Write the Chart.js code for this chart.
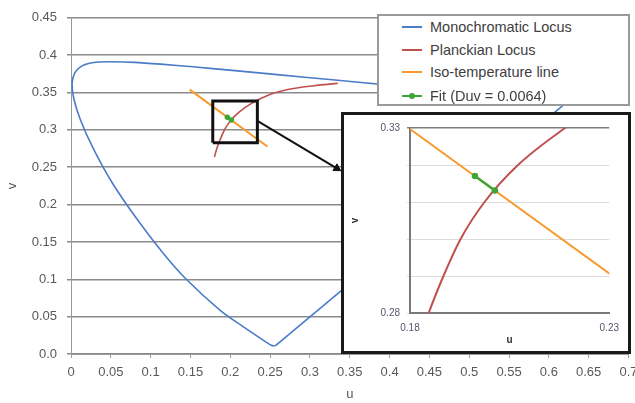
<!DOCTYPE html>
<html><head><meta charset="utf-8">
<script src="https://cdn.jsdelivr.net/npm/chart.js@4.4.0/dist/chart.umd.min.js"></script>
<style>
html,body{margin:0;padding:0;background:#fff;width:635px;height:403px;overflow:hidden;font-family:'Liberation Sans',Arial,sans-serif;}
#wrap{position:relative;width:635px;height:403px;}
#main{position:absolute;left:0;top:0;}
#legend{position:absolute;left:377px;top:14px;width:253px;height:92px;box-sizing:border-box;border:2px solid #9a9a9a;background:#fff;}
.item{position:absolute;left:0;height:18px;line-height:18px;font-size:14.5px;color:#404040;white-space:nowrap;}
.swatch{position:absolute;left:23px;top:8px;width:20px;height:2px;}
.dot{position:absolute;left:30px;top:6px;width:6px;height:6px;border-radius:50%;}
.label{position:absolute;left:51px;top:0;}
#inset{position:absolute;left:341px;top:112px;width:290px;height:242px;box-sizing:border-box;border:3px solid #1a1a1a;background:#fff;}
#insetCanvas{position:absolute;left:0;top:0;}
</style></head>
<body>
<div id="wrap">
  <canvas id="main" width="635" height="403"></canvas>
  <div id="legend"></div>
  <div id="inset"><canvas id="insetCanvas" width="284" height="236"></canvas></div>
</div>
<script>
// ---- data ----
const seriesNames = ['Monochromatic Locus', 'Planckian Locus', 'Iso-temperature line', 'Fit (Duv = 0.0064)'];

// Monochromatic (spectral) locus, CIE 1960 u,v (380 nm -> 700 nm)
const monoU = [0.2568,0.2522,0.2347,0.2161,0.1877,0.1441,0.1147,0.0828,0.0521,0.0282,0.0119,0.0035,0.0014,0.0046,0.0123,0.0231,0.0360,0.0501,0.0792,0.1127,0.1531,0.2026,0.2623,0.3315,0.4035,0.4692,0.5203,0.5830,0.6109,0.6234];
const monoV = [0.0111,0.0113,0.0233,0.0366,0.0581,0.1007,0.1362,0.1806,0.2285,0.2745,0.3132,0.3420,0.3621,0.3759,0.3846,0.3891,0.3908,0.3912,0.3904,0.3880,0.3844,0.3796,0.3736,0.3667,0.3596,0.3530,0.3479,0.3417,0.3389,0.3377];

// Planckian locus
const planckU = [0.1801,0.1823,0.1847,0.1884,0.1927,0.1987,0.2071,0.2189,0.2251,0.2505,0.2722,0.3051,0.3349];
const planckV = [0.2636,0.2722,0.2800,0.2900,0.3000,0.3100,0.3200,0.3300,0.3344,0.3476,0.3541,0.3591,0.3622];

// Iso-temperature line
const isoU = [0.149, 0.2466];
const isoV = [0.3539, 0.2777];

// Fit (Duv)
const fitU = [0.1963, 0.2013];
const fitV = [0.3170, 0.3131];

// Zoom box and connector arrow (main chart)
const boxU = [0.178, 0.234, 0.234, 0.178, 0.178];
const boxV = [0.2828, 0.2828, 0.3385, 0.3385, 0.2828];
const arrowU = [0.234, 0.3338];
const arrowV = [0.312, 0.2485];

// Tick labels
const xTickLabels = ['0','0.05','0.1','0.15','0.2','0.25','0.3','0.35','0.4','0.45','0.5','0.55','0.6','0.65','0.7'];
const yTickLabels = ['0.0','0.05','0.1','0.15','0.2','0.25','0.3','0.35','0.4','0.45'];
const insetXTicks = ['0.18','0.23'];
const insetYTicks = ['0.28','0.29','0.30','0.31','0.32','0.33'];
const insetYLabels = ['0.28','','','','','0.33'];

// ---- styles ----
const F = "'Liberation Sans', Arial, sans-serif";
const C = {blue:'#4a7cc8', red:'#c0504d', orange:'#f79a2e', green:'#3fa535', black:'#111'};
const seriesColors = [C.blue, C.red, C.orange, C.green];

const pts = (us, vs) => us.map((u, i) => ({x: u, y: vs[i]}));
const last = a => a.length - 1;

// ---- legend (HTML) ----
const lg = document.getElementById('legend');
const rowTops = [2, 25, 47, 71];
seriesNames.forEach((n, i) => {
  const d = document.createElement('div');
  d.className = 'item';
  d.style.top = rowTops[i] + 'px';
  d.style.width = '100%';
  d.innerHTML = '<span class="swatch" style="background:' + seriesColors[i] + '"></span>' +
    (i === 3 ? '<span class="dot" style="background:' + seriesColors[i] + '"></span>' : '') +
    '<span class="label"></span>';
  d.querySelector('.label').textContent = n;
  lg.appendChild(d);
});

// ---- main chart ----
new Chart(document.getElementById('main'), {
  type: 'scatter',
  data: {datasets: [
    {label: 'box', data: pts(boxU, boxV), showLine: true, borderColor: C.black, borderWidth: 3, pointRadius: 0, tension: 0, borderJoinStyle: 'miter'},
    {label: 'arrow', data: pts(arrowU, arrowV), showLine: true, borderColor: C.black, borderWidth: 2,
     pointRadius: [0, 4.5], pointStyle: 'triangle', rotation: [0, 121], pointBackgroundColor: C.black, pointBorderColor: C.black, pointBorderWidth: 1},
    {label: seriesNames[3], data: pts(fitU, fitV), showLine: true, borderColor: C.green, borderWidth: 2.5, pointRadius: 1.5, pointBackgroundColor: C.green, pointBorderColor: C.green},
    {label: seriesNames[2], data: pts(isoU, isoV), showLine: true, borderColor: C.orange, borderWidth: 2, pointRadius: 0},
    {label: seriesNames[1], data: pts(planckU, planckV), showLine: true, borderColor: C.red, borderWidth: 1.6, pointRadius: 0, cubicInterpolationMode: 'monotone'},
    {label: seriesNames[0], data: pts(monoU, monoV), showLine: true, borderColor: C.blue, borderWidth: 1.6, pointRadius: 0, tension: 0.3},
    {label: 'purple', data: [{x: monoU[last(monoU)], y: monoV[last(monoV)]}, {x: monoU[0], y: monoV[0]}], showLine: true, borderColor: C.blue, borderWidth: 1.6, pointRadius: 0, tension: 0}
  ]},
  options: {
    responsive: false, animation: false, devicePixelRatio: 1,
    layout: {padding: {left: 0, top: 15, right: 4, bottom: 0}},
    plugins: {legend: {display: false}, tooltip: {enabled: false}},
    scales: {
      x: {
        type: 'linear', min: 0, max: 0.7,
        afterBuildTicks: s => { s.ticks = xTickLabels.map(t => ({value: Number(t)})); },
        afterFit: s => { s.height = 49; s.paddingLeft = 0; s.paddingRight = 0; },
        ticks: {autoSkip: false, maxRotation: 0, padding: 7, color: '#595959', font: {family: F, size: 13}, callback: (v, i) => xTickLabels[i]},
        grid: {display: true, drawOnChartArea: false, drawTicks: true, tickLength: 4, color: '#9a9a9a'},
        border: {display: true, color: '#9a9a9a', width: 1},
        title: {display: true, text: 'u', color: '#555', font: {family: F, size: 13}, padding: {top: 0, bottom: 1}}
      },
      y: {
        type: 'linear', min: 0, max: 0.45,
        afterBuildTicks: s => { s.ticks = yTickLabels.map(t => ({value: Number(t)})); },
        afterFit: s => { s.width = 71; },
        ticks: {autoSkip: false, padding: 10, color: '#595959', font: {family: F, size: 13}, callback: (v, i) => yTickLabels[i]},
        grid: {display: true, drawOnChartArea: true, drawTicks: true, tickLength: 4, color: '#8a8a8a', lineWidth: 1.5},
        border: {display: true, color: '#9a9a9a', width: 1},
        title: {display: true, text: 'v', color: '#555', font: {family: F, size: 13}, padding: {top: 5, bottom: 0}}
      }
    }
  }
});

// ---- inset chart ----
new Chart(document.getElementById('insetCanvas'), {
  type: 'scatter',
  data: {datasets: [
    {label: seriesNames[3], data: pts(fitU, fitV), showLine: true, borderColor: C.green, borderWidth: 2.5, pointRadius: 2, pointBackgroundColor: C.green, pointBorderColor: C.green},
    {label: seriesNames[2], data: pts(isoU, isoV), showLine: true, borderColor: C.orange, borderWidth: 2, pointRadius: 0},
    {label: seriesNames[1], data: pts(planckU, planckV), showLine: true, borderColor: C.red, borderWidth: 2, pointRadius: 0, cubicInterpolationMode: 'monotone'}
  ]},
  options: {
    responsive: false, animation: false, devicePixelRatio: 1,
    layout: {padding: {left: 0, top: 13, right: 15, bottom: 0}},
    plugins: {legend: {display: false}, tooltip: {enabled: false}},
    scales: {
      x: {
        type: 'linear', min: 0.18, max: 0.23,
        afterBuildTicks: s => { s.ticks = insetXTicks.map(t => ({value: Number(t)})); },
        afterFit: s => { s.height = 38; },
        ticks: {autoSkip: false, maxRotation: 0, padding: 9, color: '#55566e', font: {family: F, size: 10}, callback: (v, i) => insetXTicks[i]},
        grid: {display: true, drawOnChartArea: false, drawTicks: false},
        border: {display: true, color: '#7a7a7a', width: 2},
        title: {display: true, text: 'u', color: '#333', font: {family: F, size: 10, weight: 'bold'}, padding: {top: 0, bottom: 5}}
      },
      y: {
        type: 'linear', min: 0.28, max: 0.33,
        afterBuildTicks: s => { s.ticks = insetYTicks.map(t => ({value: Number(t)})); },
        afterFit: s => { s.width = 66; },
        ticks: {autoSkip: false, padding: 7, color: '#55566e', font: {family: F, size: 10}, callback: (v, i) => insetYLabels[i]},
        grid: {display: true, drawOnChartArea: true, drawTicks: true, tickLength: 3,
               color: c => (c.index === insetYTicks.length - 1 ? '#808080' : '#dcdcdc'),
               lineWidth: c => (c.index === insetYTicks.length - 1 ? 1.5 : 1)},
        border: {display: true, color: '#7a7a7a', width: 2},
        title: {display: true, text: 'v', color: '#333', font: {family: F, size: 10, weight: 'bold'}, padding: {top: 5, bottom: 0}}
      }
    }
  }
});
</script>
</body></html>
